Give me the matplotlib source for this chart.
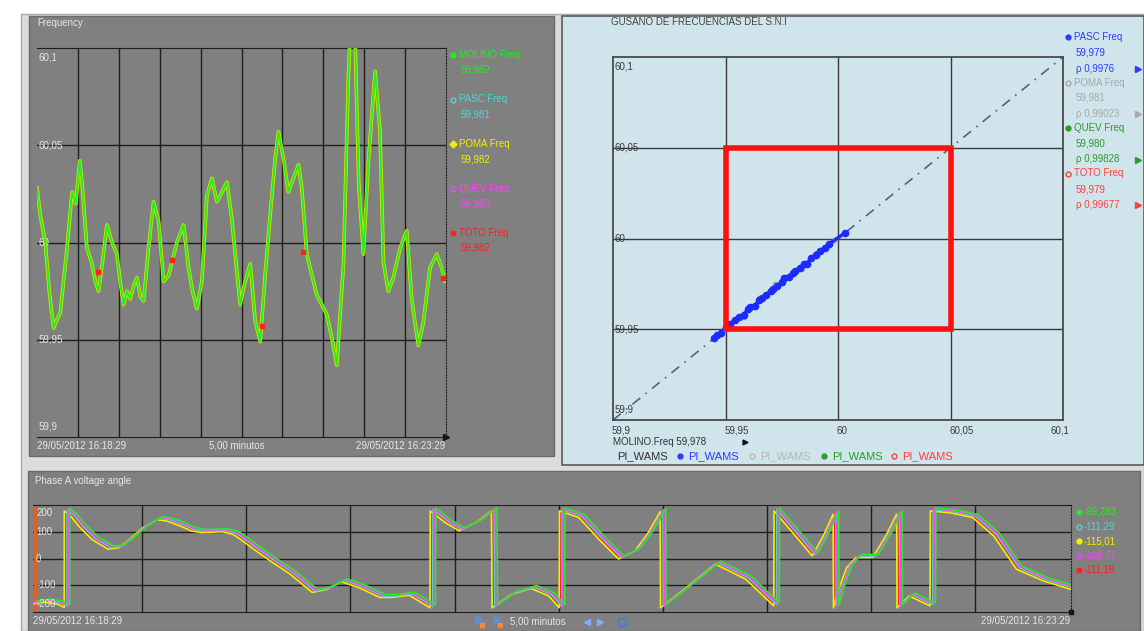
import matplotlib
matplotlib.use('Agg')
import matplotlib.pyplot as plt
from matplotlib.patches import Rectangle

plt.rcParams['font.family'] = ['Liberation Sans', 'DejaVu Sans']

W, H = 1144, 631

# Frecuencia (s desde 16:18:29, Hz)
freq_t = [0, 2.4, 6.1, 9, 12.2, 14.5, 17.1, 22, 25.7, 28.5, 31.3, 33, 36.6, 40, 42.8, 45.2,
          48, 51.3, 55, 58.6, 61, 63.5, 66, 68.4, 71, 73.3, 76, 78.2, 81.8, 85.5, 89.2,
          92.8, 96.5, 99, 102.6, 107.5, 111.2, 114, 117.3, 120.9, 124.6, 128.3, 131.9,
          135, 139.3, 142.9, 149, 152, 156.4, 160, 163.7, 167.3, 171, 174.7, 177.1,
          180.8, 184.4, 188.1, 191.8, 194.2, 197.9, 201, 205.2, 209, 212.5, 216, 219.9,
          224.8, 228.4, 229.6, 233.3, 236, 239.4, 243.1, 248, 251.6, 254.1, 257.7,
          261.4, 266.3, 271.2, 274.8, 279.7, 283.4, 288.3, 293.2, 296.8, 299.3]
freq_v = [60.028, 60.014, 60.000, 59.975, 59.956, 59.960, 59.964, 59.997, 60.026, 60.020, 60.042,
          60.031, 59.997, 59.990, 59.980, 59.975, 59.990, 60.009, 60.000, 59.994, 59.980,
          59.968, 59.975, 59.971, 59.978, 59.982, 59.972, 59.970, 59.997, 60.021, 60.011,
          59.980, 59.983, 59.990, 60.000, 60.009, 59.987, 59.975, 59.966, 59.980, 60.024,
          60.033, 60.021, 60.025, 60.031, 60.012, 59.968, 59.978, 59.989, 59.960, 59.949,
          59.983, 60.014, 60.043, 60.057, 60.043, 60.026, 60.033, 60.040, 60.028, 59.994,
          59.985, 59.973, 59.968, 59.963, 59.952, 59.937, 59.989, 60.086, 60.105, 60.105,
          60.030, 59.994, 60.042, 60.088, 60.057, 59.990, 59.975, 59.982, 59.997, 60.006,
          59.971, 59.947, 59.959, 59.987, 59.994, 59.987, 59.980]
toto_t = [98.9, 195.4, 164.9, 297.5, 45]
toto_v = [59.991, 59.995, 59.957, 59.982, 59.985]

# Gusano de frecuencias (MOLINO vs PASC)
worm_x = [59.945, 59.946, 59.948, 59.950, 59.952, 59.954, 59.956, 59.958, 59.960, 59.961,
          59.963, 59.965, 59.966, 59.968, 59.970, 59.971, 59.973, 59.975, 59.976, 59.978,
          59.980, 59.981, 59.983, 59.985, 59.986, 59.988, 59.990, 59.992, 59.994, 59.996, 60.003]
worm_y = [59.945, 59.947, 59.948, 59.951, 59.953, 59.955, 59.957, 59.958, 59.961, 59.962,
          59.963, 59.966, 59.967, 59.969, 59.971, 59.972, 59.974, 59.976, 59.978, 59.979,
          59.981, 59.982, 59.984, 59.986, 59.986, 59.989, 59.991, 59.993, 59.995, 59.997, 60.003]
other_x = [59.958, 59.965, 59.972, 59.977, 59.984, 59.990, 59.998]
other_y = [59.957, 59.967, 59.975, 59.978, 59.983, 59.992, 59.999]

# Angulo de tension fase A (s, grados)
ang_t = [-1.2, 2.4, 6.6, 8.4, 8.4, 10.5, 12.9, 16.5, 21, 24, 27.3, 31, 35.1, 38, 41.7, 45, 48,
         54, 57, 59.1, 64, 68.4, 73.5, 79.8, 84, 88.2, 93.3, 99.3, 103, 107.7, 113.7, 113.8,
         118, 122.1, 127, 131.4, 131.6, 137, 142.8, 147.9, 150.9, 151, 156.6, 162.3, 168,
         172.8, 176.5, 180, 180.1, 184, 189.3, 195.9, 204.6, 212.7, 212.8, 218.1, 223.8,
         227, 229.8, 229.9, 231.4, 233.7, 236.4, 241.2, 245, 248.1, 248.2, 251.7, 257.7,
         257.8, 264, 270, 276, 282.6, 290.4, 298.2]
ang_v = [-166, -157, -166, -178, 183, 160, 121, 75, 40, 45, 77, 120, 150, 145, 127, 108, 102,
         105, 95, 77, 30, -10, -54, -122, -110, -82, -104, -141, -140, -132, -179, 183,
         140, 109, 140, 183, -179, -130, -107, -135, -179, 183, 158, 77, 3,
         34, 100, 180, -179, -140, -85, -16, -72, -172, 183, 102, 15,
         90, 171, -179, -110, -29, 9, 9, 90, 171, -179, -135, -172,
         183, 175, 158, 90, -35, -79, -110]
# retraso y desfase de cada estacion (s, grados)
st_names = ['TOTO', 'POMA', 'PASC', 'QUEV', 'MOLINO']
st_colors = ['#ff2020', '#f0f000', '#4fd6d6', '#ff40ff', '#22ee22']
st_lag = [-0.3, -0.8, 0.0, 0.3, 0.8]
st_off = [-1, -5, 0, 3, 6]
leg_colors = ['#22ee22', '#4fd6d6', '#f0f000', '#ff40ff', '#ff2020']
ang_legend = ['-99,283', '-111,29', '-115,01', '-108,77', '-111,18']


def rect(x0, y0, x1, y1):
    return [x0 / W, 1 - y1 / H, (x1 - x0) / W, (y1 - y0) / H]


fig = plt.figure(figsize=(W / 100, H / 100), dpi=100)
bg = fig.add_axes([0, 0, 1, 1])
bg.set_xlim(0, W)
bg.set_ylim(H, 0)
bg.axis('off')

# ventanas
bg.add_patch(Rectangle((21, 14), 1123, 617, fc='#dcdcdc', ec='#a8a8a8', lw=1))
bg.add_patch(Rectangle((29, 16), 525, 440, fc='#808080', ec='#6a6a6a', lw=1))
bg.add_patch(Rectangle((562, 16), 582, 449, fc='#cfe4eb', ec='#5a5a5a', lw=1.2))
bg.add_patch(Rectangle((28, 471), 1112, 160, fc='#808080', ec='#6a6a6a', lw=1))

# ---------- panel de frecuencia ----------
txt = '#e6e6e6'
bg.text(37, 23, 'Frequency', color=txt, fontsize=7, va='center')
ax1 = fig.add_axes(rect(37, 48, 446, 437))
ax1.set_facecolor('none')
ax1.set_xlim(0, 300)
ax1.set_ylim(59.9, 60.1)
ax1.set_xticks(range(30, 300, 30))
ax1.set_yticks([59.95, 60, 60.05])
ax1.grid(color='#1e1e1e', lw=1)
ax1.tick_params(length=0, labelbottom=False, labelleft=False)
ax1.spines['left'].set_visible(False)
ax1.spines['top'].set_color('#1e1e1e')
ax1.spines['bottom'].set_color('#1e1e1e')
ax1.spines['right'].set_linestyle(':')
ax1.spines['right'].set_color('#222')
ax1.plot(freq_t, freq_v, color='#e8e000', lw=2.6, zorder=3)
ax1.plot(freq_t, freq_v, color='#22ee22', lw=1.5, zorder=4)
ax1.plot(toto_t, toto_v, 's', color='#ff2020', ms=3, zorder=5)
for v, lab, va in [(60.1, '60,1', 'top'), (60.05, '60,05', 'center'), (60, '60', 'center'),
                   (59.95, '59,95', 'center'), (59.9, '59,9', 'bottom')]:
    dy = -3 if va == 'top' else (4 if va == 'bottom' else 0)
    ax1.annotate(lab, (0.004, v), xycoords=ax1.get_yaxis_transform(), xytext=(0, dy),
                 textcoords='offset points', color=txt, fontsize=7, va=va)
bg.plot(446, 437, '>', color='#111', ms=4)
bg.text(37, 446, '29/05/2012 16:18:29', color=txt, fontsize=7, va='center')
bg.text(237, 446, '5,00 minutos', color=txt, fontsize=7, va='center', ha='center')
bg.text(445, 446, '29/05/2012 16:23:29', color=txt, fontsize=7, va='center', ha='right')

leg1 = [('MOLINO Freq', '59,982', '#22ee22', 'o'), ('PASC Freq', '59,981', '#4fd6d6', 'o'),
        ('POMA Freq', '59,982', '#f0f000', 'D'), ('QUEV Freq', '59,980', '#ff40ff', 'o'),
        ('TOTO Freq', '59,982', '#ff2020', 's')]
for i, (n, v, c, m) in enumerate(leg1):
    y = 55 + i * 44.5
    bg.plot(453, y, m, color=c, ms=3.5, mfc=c if m != 'o' or i == 0 else 'none')
    bg.text(459, y, n, color=c, fontsize=7, va='center')
    bg.text(461, y + 15, v, color=c, fontsize=7, va='center')

# ---------- gusano de frecuencias ----------
bg.text(611, 22, 'GUSANO DE FRECUENCIAS DEL S.N.I', color='#444', fontsize=7, va='center')
ax2 = fig.add_axes(rect(613, 57, 1063, 420))
ax2.set_facecolor('none')
ax2.set_xlim(59.9, 60.1)
ax2.set_ylim(59.9, 60.1)
ax2.set_xticks([59.95, 60, 60.05])
ax2.set_yticks([59.95, 60, 60.05])
ax2.grid(color='#3a3a3a', lw=1)
ax2.tick_params(length=0, labelbottom=False, labelleft=False)
for s in ax2.spines.values():
    s.set_color('#4a4a4a')
    s.set_linewidth(1.3)
ax2.plot([59.9, 60.1], [59.9, 60.1], color='#50648a', lw=1.2, ls=(0, (6, 4, 1, 4)), zorder=2)
ax2.plot(other_x, other_y, 'o', color='#b0a090', ms=3, zorder=3)
ax2.plot(worm_x, worm_y, 'o', color='#1a2cff', ms=4.5, zorder=4)
ax2.plot(worm_x, worm_y, color='#1a2cff', lw=2.5, zorder=4)
ax2.add_patch(Rectangle((59.95, 59.95), 0.1, 0.1, fill=False, ec='#ff1010', lw=4, zorder=5))
dark = '#3a3a3a'
for v, lab in [(60.1, '60,1'), (60.05, '60,05'), (60, '60'), (59.95, '59,95'), (59.9, '59,9')]:
    dy = -3 if v == 60.1 else (4 if v == 59.9 else 0)
    va = 'top' if v == 60.1 else ('bottom' if v == 59.9 else 'center')
    ax2.annotate(lab, (0.003, v), xycoords=ax2.get_yaxis_transform(), xytext=(0, dy),
                 textcoords='offset points', color=dark, fontsize=7, va=va)
    ax2.annotate(lab, (v, 0), xycoords=ax2.get_xaxis_transform(), xytext=(-1 if v < 60.1 else -9, -4),
                 textcoords='offset points', color=dark, fontsize=7, va='top')
bg.text(613, 442, 'MOLINO.Freq 59,978', color='#333', fontsize=7, va='center')
bg.plot(745, 442, '>', color='#111', ms=3.5)
row = [('PI_WAMS', '#333', None), ('PI_WAMS', '#2a3cff', 'o'), ('PI_WAMS', '#b8b8b8', 'o'),
       ('PI_WAMS', '#2aa02a', 'o'), ('PI_WAMS', '#ff4040', 'o')]
xs = [617, 688, 760, 832, 902]
for (lab, c, m), x in zip(row, xs):
    if m:
        bg.plot(x - 8, 456, m, color=c, ms=3.5, mfc=c if c in ('#2a3cff', '#2aa02a') else 'none')
    bg.text(x, 456, lab, color=c, fontsize=8, va='center')

leg2 = [('PASC Freq', '59,979', '\u03c1 0,9976', '#2a3cff', True),
        ('POMA Freq', '59,981', '\u03c1 0,99023', '#a8a8a8', False),
        ('QUEV Freq', '59,980', '\u03c1 0,99828', '#2a9a2a', True),
        ('TOTO Freq', '59,979', '\u03c1 0,99677', '#ff4040', False)]
for i, (n, v, r, c, full) in enumerate(leg2):
    y = 37 + i * 45.5
    bg.plot(1068, y, 'o', color=c, ms=3.5, mfc=c if full else 'none')
    bg.text(1074, y, n, color=c, fontsize=7, va='center')
    bg.text(1076, y + 15.5, v, color=c, fontsize=7, va='center')
    bg.text(1076, y + 31.5, r, color=c, fontsize=7, va='center')
    bg.plot(1138, y + 31.5, '>', color=c, ms=4)

# ---------- angulo de tension ----------
bg.text(35, 481, 'Phase A voltage angle', color=txt, fontsize=7, va='center')
ax3 = fig.add_axes(rect(33, 505, 1071, 612))
ax3.set_facecolor('none')
ax3.set_xlim(-1.4, 297.5)
ax3.set_ylim(-200, 200)
ax3.set_xticks(range(30, 300, 30))
ax3.set_yticks([-100, 0, 100])
ax3.grid(color='#1e1e1e', lw=1)
ax3.tick_params(length=0, labelbottom=False, labelleft=False)
ax3.spines['left'].set_visible(False)
ax3.spines['top'].set_color('#1e1e1e')
ax3.spines['bottom'].set_color('#1e1e1e')
ax3.spines['right'].set_linestyle(':')
ax3.spines['right'].set_color('#222')
ax3.plot([-0.9, -0.9], [190, -190], color='#e06020', lw=2.5)
for n, c, lag, off in zip(st_names, st_colors, st_lag, st_off):
    ax3.plot([t + lag for t in ang_t], [a + off for a in ang_v], color=c, lw=1.2)
for v, lab in [(200, '200'), (100, '100'), (0, '0'), (-100, '-100'), (-200, '-200')]:
    ax3.annotate(lab, (0.003, v), xycoords=ax3.get_yaxis_transform(),
                 xytext=(0, -2 if v == 200 else (2 if v == -200 else 0)),
                 textcoords='offset points', color=txt, fontsize=7,
                 va='top' if v == 200 else ('bottom' if v == -200 else 'center'))
mk = ['s', 'o', 'o', 'o', 's']
for i, (c, lab) in enumerate(zip(leg_colors, ang_legend)):
    y = 512 + i * 14.5
    bg.plot(1079, y, mk[i], color=c, ms=3.5, mfc=c if mk[i] == 's' or i == 2 else 'none')
    bg.text(1084, y, lab, color=c, fontsize=7, va='center')
bg.plot(1071, 612, 's', color='#111', ms=3)
bg.text(33, 621, '29/05/2012 16:18:29', color=txt, fontsize=7, va='center')
bg.text(1070, 621, '29/05/2012 16:23:29', color=txt, fontsize=7, va='center', ha='right')
bg.text(510, 622, '5,00 minutos', color=txt, fontsize=7, va='center')
bg.plot([478, 496], [620, 620], 's', color='#5a8fd8', ms=4)
bg.plot([482, 500], [625, 625], 's', color='#ff8a30', ms=3)
bg.plot(587, 622, '<', color='#7ab0ff', ms=5)
bg.plot(600, 622, '>', color='#7ab0ff', ms=5)
bg.plot(622, 622, 'o', color='#4a7ad8', ms=6, mfc='none', mew=1.5)

fig.savefig('out.png', dpi=100)
